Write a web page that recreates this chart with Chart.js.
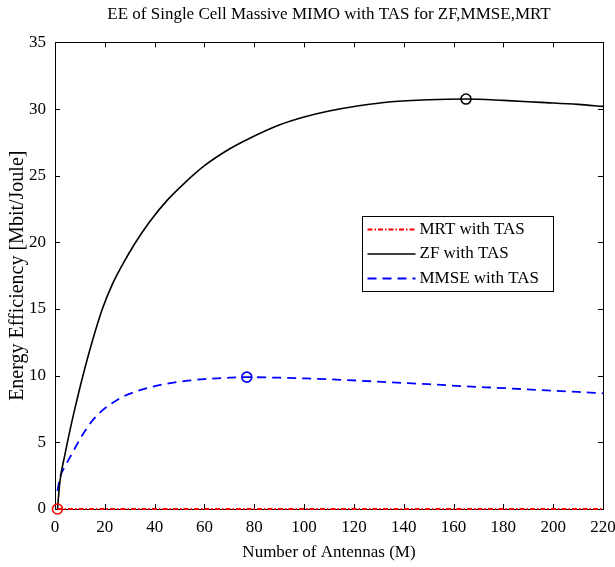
<!DOCTYPE html>
<html>
<head>
<meta charset="utf-8">
<script src="https://cdn.jsdelivr.net/npm/chart.js@4/dist/chart.umd.min.js"></script>
<style>
html,body{margin:0;padding:0;background:#fff;}
canvas{display:block;}
</style>
</head>
<body>
<canvas id="c" width="615" height="567"></canvas>
<script>
// Number of antennas (M)
const antennas = [1, 2, 4, 6, 8, 11, 15, 19, 23, 27, 32, 38, 45, 52, 60, 70, 77, 90, 100, 110, 122, 135, 150, 165, 180, 195, 210, 220];
// Energy efficiency [Mbit/Joule]
const zfWithTas   = [0, 2.1, 4.1, 5.9, 7.55, 9.85, 12.6, 15.0, 16.85, 18.3, 19.9, 21.55, 23.15, 24.45, 25.75, 27.0, 27.7, 28.8, 29.4, 29.85, 30.25, 30.55, 30.7, 30.75, 30.65, 30.5, 30.35, 30.2];
const mmseWithTas = [1.35, 2.35, 3.2, 3.87, 4.56, 5.55, 6.63, 7.4, 7.95, 8.4, 8.78, 9.12, 9.4, 9.6, 9.74, 9.85, 9.89, 9.85, 9.8, 9.73, 9.63, 9.5, 9.36, 9.2, 9.07, 8.92, 8.78, 8.68];
const mrtWithTas  = [0, 0, 0, 0, 0, 0, 0, 0, 0, 0, 0, 0, 0, 0, 0, 0, 0, 0, 0, 0, 0, 0, 0, 0, 0, 0, 0, 0];
const xTicks = [0, 20, 40, 60, 80, 100, 120, 140, 160, 180, 200, 220];
const yTicks = [0, 5, 10, 15, 20, 25, 30, 35];
const seriesLabels = ['MRT with TAS', 'ZF with TAS', 'MMSE with TAS'];

const FONT = '"Liberation Serif", "Times New Roman", serif';

function toPoints(vals) { return antennas.map((m, i) => ({x: m, y: vals[i]})); }
function argmax(vals) { let k = 0; vals.forEach((v, i) => { if (v > vals[k]) k = i; }); return k; }
function peakRadius(vals) { const k = argmax(vals); return ctx => ctx.dataIndex === k ? 5 : 0; }

const datasets = [
  {label: seriesLabels[0], data: toPoints(mrtWithTas), borderColor: '#ff0000', borderWidth: 2,
   borderDash: [5, 2, 1.5, 2], pointRadius: peakRadius(mrtWithTas), pointBorderColor: '#ff0000',
   pointBackgroundColor: 'rgba(0,0,0,0)', pointBorderWidth: 1.6, clip: 8},
  {label: seriesLabels[1], data: toPoints(zfWithTas), borderColor: '#000000', borderWidth: 1.6,
   pointRadius: peakRadius(zfWithTas), pointBorderColor: '#000000',
   pointBackgroundColor: 'rgba(0,0,0,0)', pointBorderWidth: 1.6, clip: 8},
  {label: seriesLabels[2], data: toPoints(mmseWithTas), borderColor: '#0000ff', borderWidth: 1.8,
   borderDash: [9, 6], pointRadius: peakRadius(mmseWithTas), pointBorderColor: '#0000ff',
   pointBackgroundColor: 'rgba(0,0,0,0)', pointBorderWidth: 1.6, clip: 8}
];

const boxPlugin = {
  id: 'matlabBox',
  beforeDatasetsDraw(chart) {
    const {ctx, chartArea: a, scales} = chart;
    ctx.save();
    ctx.strokeStyle = '#000';
    ctx.lineWidth = 1;
    ctx.strokeRect(Math.round(a.left) + 0.5, Math.round(a.top) + 0.5,
                   Math.round(a.right - a.left), Math.round(a.bottom - a.top));
    const tl = 5;
    ctx.beginPath();
    xTicks.forEach(t => {
      const x = Math.round(scales.x.getPixelForValue(t)) + 0.5;
      ctx.moveTo(x, a.bottom); ctx.lineTo(x, a.bottom - tl);
      ctx.moveTo(x, a.top); ctx.lineTo(x, a.top + tl);
    });
    yTicks.forEach(t => {
      const y = Math.round(scales.y.getPixelForValue(t)) + 0.5;
      ctx.moveTo(a.left, y); ctx.lineTo(a.left + tl, y);
      ctx.moveTo(a.right, y); ctx.lineTo(a.right - tl, y);
    });
    ctx.stroke();
    ctx.restore();
  },
  afterDatasetsDraw(chart) {
    const {ctx, chartArea: a} = chart;
    ctx.save();
    const bx = Math.round(a.left + 0.56 * (a.right - a.left)) + 0.5;
    const by = Math.round(a.top + 174) + 0.5;
    const bw = 191, bh = 75;
    ctx.fillStyle = '#fff';
    ctx.fillRect(bx, by, bw, bh);
    ctx.strokeStyle = '#000';
    ctx.lineWidth = 1;
    ctx.setLineDash([]);
    ctx.strokeRect(bx, by, bw, bh);
    ctx.font = '17px ' + FONT;
    ctx.textBaseline = 'middle';
    ctx.textAlign = 'left';
    chart.data.datasets.forEach((ds, i) => {
      const y = by + 13 + i * 24.5;
      ctx.beginPath();
      ctx.strokeStyle = ds.borderColor;
      ctx.lineWidth = ds.borderWidth;
      ctx.setLineDash(ds.borderDash || []);
      ctx.moveTo(bx + 5, y); ctx.lineTo(bx + 53, y);
      ctx.stroke();
      ctx.setLineDash([]);
      ctx.fillStyle = '#000';
      ctx.fillText(ds.label, bx + 57, y);
    });
    ctx.restore();
  }
};

new Chart(document.getElementById('c'), {
  type: 'line',
  data: {datasets},
  options: {
    responsive: false,
    animation: false,
    devicePixelRatio: 1,
    layout: {padding: {left: 0, right: 12, top: 0, bottom: 0}, autoPadding: false},
    plugins: {
      legend: {display: false},
      tooltip: {enabled: false},
      title: {display: true, fullSize: false, text: 'EE of Single Cell Massive MIMO with TAS for ZF,MMSE,MRT',
              color: '#000', font: {family: FONT, size: 17, weight: 'normal'},
              padding: {top: 4, bottom: 18}}
    },
    elements: {line: {cubicInterpolationMode: 'monotone', fill: false}},
    scales: {
      x: {
        type: 'linear', min: 0, max: 220,
        afterBuildTicks: s => { s.ticks = xTicks.map(v => ({value: v})); },
        afterFit: s => { s.height = 58; s.paddingLeft = 0; s.paddingRight = 0; },
        grid: {display: false, drawTicks: false},
        border: {display: false},
        ticks: {color: '#000', font: {family: FONT, size: 17}, padding: 8, maxRotation: 0, autoSkip: false},
        title: {display: true, text: 'Number of Antennas (M)', color: '#000',
                font: {family: FONT, size: 17}, padding: {top: 2, bottom: 4}}
      },
      y: {
        type: 'linear', min: 0, max: 35,
        afterBuildTicks: s => { s.ticks = yTicks.map(v => ({value: v})); },
        afterFit: s => { s.width = 55; s.paddingTop = 0; s.paddingBottom = 0; },
        grid: {display: false, drawTicks: false},
        border: {display: false},
        ticks: {color: '#000', font: {family: FONT, size: 17}, padding: 9, autoSkip: false},
        title: {display: true, text: 'Energy Efficiency [Mbit/Joule]', color: '#000',
                font: {family: FONT, size: 20}, padding: {top: 6, bottom: 0}}
      }
    }
  },
  plugins: [boxPlugin]
});
</script>
</body>
</html>
